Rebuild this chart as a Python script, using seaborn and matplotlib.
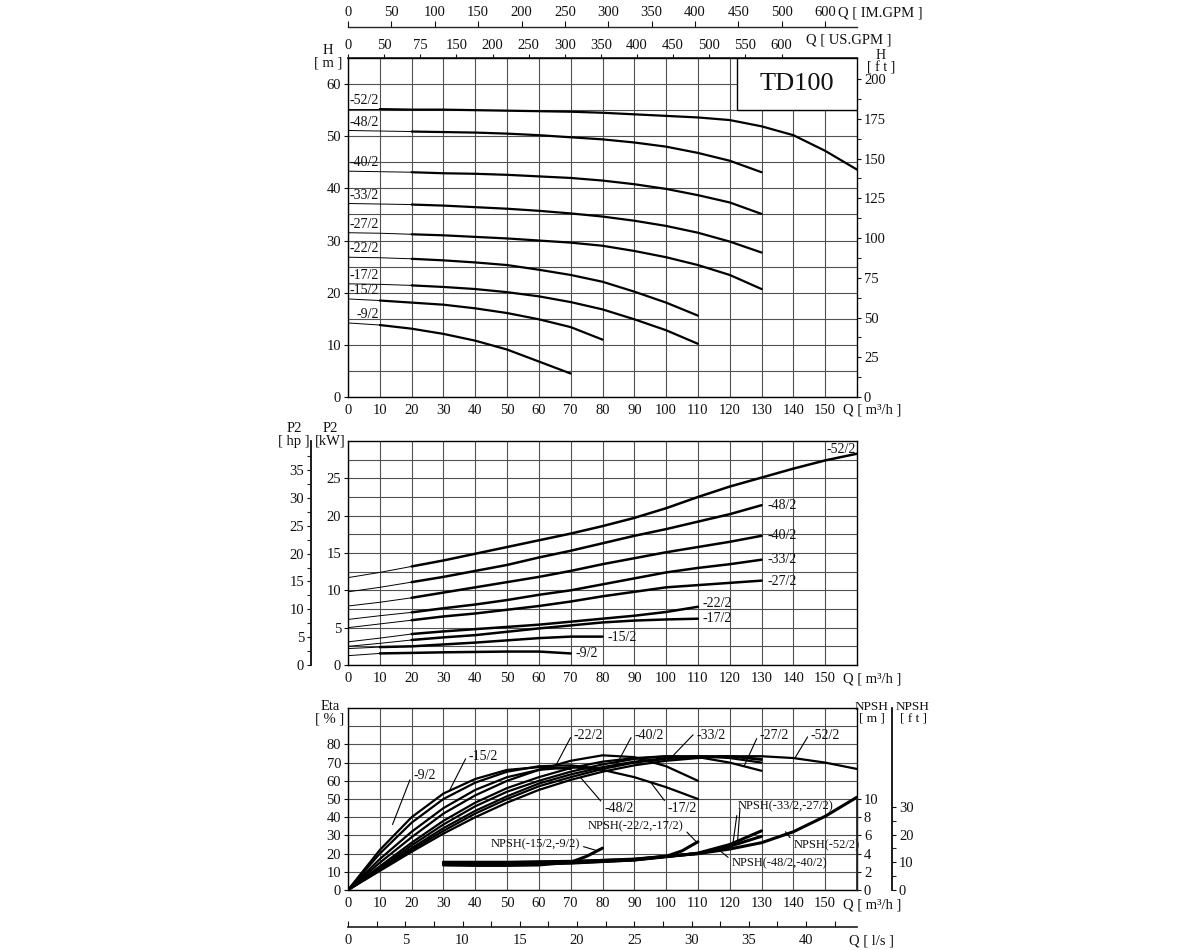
import numpy as np
import matplotlib
matplotlib.use("Agg")
import matplotlib.pyplot as plt
from matplotlib.patches import Rectangle
import seaborn as sns

# ---- data ----
models = ["-52/2", "-48/2", "-40/2", "-33/2", "-27/2", "-22/2", "-17/2", "-15/2", "-9/2"]

q160 = [0, 10, 20, 30, 40, 50, 60, 70, 80, 90, 100, 110, 120, 130, 140, 150, 160]
q130 = [0, 10, 20, 30, 40, 50, 60, 70, 80, 90, 100, 110, 120, 130]
q110 = [0, 10, 20, 30, 40, 50, 60, 70, 80, 90, 100, 110]
q80 = [0, 10, 20, 30, 40, 50, 60, 70, 80]
q70 = [0, 10, 20, 30, 40, 50, 60, 70]
q_of_model = [q160, q130, q130, q130, q130, q110, q110, q80, q70]

# head H [m]
head_52 = [55.2, 55.2, 55.1, 55.1, 55.0, 54.9, 54.8, 54.7, 54.5, 54.2, 53.9, 53.6, 53.1, 51.9, 50.2, 47.2, 43.6]
head_48 = [51.1, 51.0, 50.9, 50.8, 50.7, 50.5, 50.2, 49.8, 49.4, 48.8, 48.0, 46.8, 45.3, 43.1]
head_40 = [43.3, 43.2, 43.1, 42.9, 42.8, 42.6, 42.3, 42.0, 41.5, 40.8, 39.9, 38.7, 37.3, 35.1]
head_33 = [37.1, 37.0, 36.9, 36.7, 36.4, 36.1, 35.7, 35.2, 34.6, 33.8, 32.8, 31.5, 29.8, 27.7]
head_27 = [31.5, 31.4, 31.2, 31.0, 30.7, 30.4, 30.0, 29.6, 29.0, 28.0, 26.8, 25.3, 23.4, 20.7]
head_22 = [26.8, 26.7, 26.5, 26.2, 25.8, 25.3, 24.4, 23.4, 22.1, 20.2, 18.1, 15.6]
head_17 = [21.7, 21.6, 21.4, 21.1, 20.7, 20.1, 19.3, 18.2, 16.8, 14.9, 12.8, 10.2]
head_15 = [18.8, 18.5, 18.1, 17.7, 17.0, 16.1, 14.9, 13.4, 11.0]
head_9 = [14.2, 13.8, 13.1, 12.1, 10.8, 9.1, 6.8, 4.5]
heads = [head_52, head_48, head_40, head_33, head_27, head_22, head_17, head_15, head_9]

# shaft power P2 [kW]
p2_52 = [11.7, 12.4, 13.2, 14.0, 14.9, 15.8, 16.7, 17.6, 18.6, 19.7, 21.0, 22.5, 23.9, 25.1, 26.3, 27.4, 28.3]
p2_48 = [9.8, 10.4, 11.1, 11.8, 12.6, 13.4, 14.4, 15.3, 16.3, 17.3, 18.2, 19.2, 20.2, 21.4]
p2_40 = [7.9, 8.4, 9.0, 9.7, 10.4, 11.1, 11.8, 12.6, 13.5, 14.3, 15.1, 15.8, 16.5, 17.3]
p2_33 = [6.1, 6.6, 7.05, 7.6, 8.1, 8.7, 9.4, 10.0, 10.8, 11.6, 12.4, 13.0, 13.5, 14.1]
p2_27 = [5.0, 5.5, 6.0, 6.5, 6.9, 7.4, 7.9, 8.5, 9.2, 9.8, 10.4, 10.7, 11.0, 11.3]
p2_22 = [3.1, 3.6, 4.15, 4.5, 4.8, 5.1, 5.4, 5.8, 6.2, 6.6, 7.1, 7.8]
p2_17 = [2.5, 2.9, 3.35, 3.7, 4.0, 4.45, 4.9, 5.3, 5.7, 5.95, 6.1, 6.2]
p2_15 = [2.2, 2.4, 2.5, 2.75, 3.0, 3.3, 3.6, 3.8, 3.8]
p2_9 = [1.25, 1.55, 1.62, 1.7, 1.75, 1.8, 1.8, 1.55]
powers = [p2_52, p2_48, p2_40, p2_33, p2_27, p2_22, p2_17, p2_15, p2_9]

# efficiency Eta [%]
eta_52 = [0, 10.5, 21, 31, 40, 48, 55, 60.5, 65, 68.5, 71, 72.5, 73.5, 73.5, 72.5, 70, 66.5]
eta_48 = [0, 11, 22, 32.5, 42, 50, 57, 62, 66.5, 70, 72, 73, 73.5, 72]
eta_40 = [0, 11.5, 23, 34, 43.5, 51.5, 58.5, 63.5, 67.5, 70.5, 72.5, 73.5, 73.5, 71.5]
eta_33 = [0, 12, 24.5, 36, 46, 54, 60, 65, 69, 72, 73.5, 73.5, 72.5, 70]
eta_27 = [0, 13, 26, 38, 48, 56, 62, 67, 70.5, 72.5, 73.5, 73, 70, 65.5]
eta_22 = [0, 15, 29, 42, 52, 60, 66, 71, 74, 73, 68, 60]
eta_17 = [0, 17, 32, 45, 55, 62, 66, 67.5, 66, 62, 56.5, 50]
eta_15 = [0, 20, 37, 50, 59, 65, 68, 68.5, 66.5]
eta_9 = [0, 22, 40, 53, 61, 66, 67.5, 66.5]
etas = [eta_52, eta_48, eta_40, eta_33, eta_27, eta_22, eta_17, eta_15, eta_9]

# NPSH [m]
npsh_names = ["NPSH(-15/2,-9/2)", "NPSH(-22/2,-17/2)", "NPSH(-33/2,-27/2)", "NPSH(-48/2,-40/2)", "NPSH(-52/2)"]
npsh_q = [
    [30, 40, 50, 60, 70, 75, 80],
    [30, 50, 70, 90, 100, 105, 110],
    [30, 50, 70, 90, 100, 110, 120, 130],
    [30, 50, 70, 90, 100, 110, 120, 130],
    [30, 50, 70, 90, 100, 110, 120, 130, 140, 150, 160],
]
npsh_m = [
    [2.75, 2.7, 2.7, 2.75, 3.05, 3.7, 4.6],
    [2.85, 2.85, 2.95, 3.3, 3.7, 4.3, 5.3],
    [2.9, 2.9, 3.0, 3.3, 3.65, 4.05, 5.0, 6.5],
    [3.0, 3.0, 3.1, 3.4, 3.7, 4.0, 4.8, 5.9],
    [3.05, 3.05, 3.15, 3.35, 3.7, 4.0, 4.5, 5.2, 6.4, 8.1, 10.2],
]

thin_until_h = [10, 20, 20, 20, 20, 20, 20, 10, 10]
thin_until_p = [20, 20, 20, 20, 20, 20, 20, 10, 10]

us_gpm_ticks = [0, 50, 100, 150, 200, 250, 300, 350, 400, 450, 500, 550, 600]
us_gpm_labels = ["0", "50", "75", "150", "200", "250", "300", "350", "400", "450", "500", "550", "600"]
im_gpm_ticks = [0, 50, 100, 150, 200, 250, 300, 350, 400, 450, 500, 550]
im_gpm_labels = ["0", "50", "100", "150", "200", "250", "300", "350", "400", "450", "500", "600"]

M3H_TO_USGPM = 4.4029
M3H_TO_IMGPM = 3.6662
M_TO_FT = 3.28084
KW_TO_HP = 1 / 0.7457

sns.set_theme(style="white")
plt.rcParams["font.family"] = ["Liberation Serif", "DejaVu Serif"]
FS = 10.5      # tick labels
FS_LAB = 10    # curve names
FS_NPSH = 9    # NPSH curve names
INK = "#111111"
GRID = "#505050"

W, H = 1200, 950
PT = 72 / 100  # points per pixel at dpi 100


def fx(px):
    return px / W


def fy(py):
    return 1 - py / H


def frame(ax, ymax, major, minor):
    ax.set_xlim(0, 160)
    ax.set_ylim(0, ymax)
    ax.set_xticks(range(0, 151, 10))
    ax.set_yticks(major)
    ax.set_yticks(minor, minor=True)
    ax.grid(True, which="both", color=GRID, lw=0.8)
    ax.set_axisbelow(True)
    for s in ax.spines.values():
        s.set_color("black")
        s.set_linewidth(1.0)
    ax.tick_params(which="major", direction="out", length=3, width=0.8,
                   labelsize=FS, colors=INK, pad=2)
    ax.tick_params(which="minor", length=0)
    ax.set_xlabel("")
    ax.set_ylabel("")


def line(ax, x, y, lw):
    sns.lineplot(x=x, y=y, ax=ax, color="black", lw=lw, estimator=None, sort=False)


def twin_style(tw):
    for s in tw.spines.values():
        s.set_visible(False)
    tw.grid(False)
    tw.set_ylabel("")
    tw.tick_params(which="major", direction="out", length=3, width=0.8,
                   labelsize=FS, colors=INK, pad=2)
    tw.tick_params(which="minor", direction="out", length=3, width=0.8)


fig = plt.figure(figsize=(12, 9.5), dpi=100)
ax_h = fig.add_axes([fx(348), fy(397), fx(857) - fx(348), (397 - 58) / H])
ax_p = fig.add_axes([fx(348), fy(665), fx(857) - fx(348), (665 - 441) / H])
ax_e = fig.add_axes([fx(348), fy(890), fx(857) - fx(348), (890 - 708) / H])

# ---------------- head panel ----------------
frame(ax_h, 65, range(0, 61, 10), range(5, 61, 10))
for name, q, h, t in zip(models, q_of_model, heads, thin_until_h):
    q = np.array(q)
    h = np.array(h)
    line(ax_h, q[q <= t], h[q <= t], 0.7)
    line(ax_h, q[q >= t], h[q >= t], 1.6)
    ax_h.text(9.8, h[0] + 0.35, name, ha="right", va="bottom", fontsize=FS_LAB, color=INK)

ax_h.add_patch(Rectangle((122.4, 55), 160 - 122.4, 10, facecolor="white",
                         edgecolor="black", lw=1.0, zorder=3))
ax_h.text(141.2, 60.1, "TD100", ha="center", va="center", fontsize=19, color=INK, zorder=4)

ax_ft = ax_h.twinx()
twin_style(ax_ft)
ax_ft.set_ylim(0, 65 * M_TO_FT)
ax_ft.set_yticks(range(0, 201, 25))
ax_ft.set_yticks(np.arange(12.5, 200, 25), minor=True)

ax_us = ax_h.secondary_xaxis("top", functions=(lambda q: q * M3H_TO_USGPM,
                                               lambda g: g / M3H_TO_USGPM))
ax_us.set_xticks(us_gpm_ticks, labels=us_gpm_labels)
ax_us.tick_params(direction="out", length=3, width=0.8, labelsize=FS, colors=INK, pad=1)

ax_im = ax_h.secondary_xaxis(1 + (58 - 27) / (397 - 58),
                             functions=(lambda q: q * M3H_TO_IMGPM,
                                        lambda g: g / M3H_TO_IMGPM))
ax_im.set_xticks(im_gpm_ticks, labels=im_gpm_labels)
ax_im.tick_params(direction="out", length=4, width=0.8, labelsize=FS, colors=INK, pad=2)
ax_im.spines["top"].set_linewidth(1.0)

# ---------------- power panel ----------------
frame(ax_p, 30, range(0, 26, 5), np.arange(2.5, 30, 5))
for name, q, p, t in zip(models, q_of_model, powers, thin_until_p):
    q = np.array(q)
    p = np.array(p)
    line(ax_p, q[q <= t], p[q <= t], 0.7)
    line(ax_p, q[q >= t], p[q >= t], 1.8)

p_label_pos = {"-52/2": (159.8, 28.9, "right"), "-48/2": (132, 21.4, "left"),
               "-40/2": (132, 17.3, "left"), "-33/2": (132, 14.1, "left"),
               "-27/2": (132, 11.2, "left"), "-22/2": (111.5, 8.3, "left"),
               "-17/2": (111.5, 6.2, "left"), "-15/2": (81.5, 3.7, "left"),
               "-9/2": (71.5, 1.5, "left")}
for name, (x, y, ha) in p_label_pos.items():
    ax_p.text(x, y, name, ha=ha, va="center", fontsize=FS_LAB, color=INK)

ax_hp = ax_p.twinx()
twin_style(ax_hp)
ax_hp.set_ylim(0, 30 * KW_TO_HP)
ax_hp.spines["left"].set_visible(True)
ax_hp.spines["left"].set_position(("outward", (348 - 311) * PT))
ax_hp.spines["left"].set_color("black")
ax_hp.yaxis.tick_left()
ax_hp.set_yticks(range(0, 36, 5))
ax_hp.set_yticks(np.arange(2.5, 40, 5), minor=True)

# ---------------- efficiency / NPSH panel ----------------
frame(ax_e, 100, range(0, 81, 10), [90])
for name, q, e in zip(models, q_of_model, etas):
    line(ax_e, q, e, 1.6)

ax_nm = ax_e.twinx()
twin_style(ax_nm)
ax_nm.set_ylim(0, 20)
ax_nm.set_yticks(range(0, 11, 2))
ax_nm.spines["right"].set_visible(True)
ax_nm.spines["right"].set_bounds(0, 10)
for q, n in zip(npsh_q, npsh_m):
    line(ax_nm, q, n, 2.2)

ax_nf = ax_e.twinx()
twin_style(ax_nf)
ax_nf.set_ylim(0, 20 * M_TO_FT)
ax_nf.spines["right"].set_visible(True)
ax_nf.spines["right"].set_position(("outward", (892 - 857) * PT))
ax_nf.spines["right"].set_color("black")
ax_nf.set_yticks([0, 10, 20, 30])
ax_nf.set_yticks([5, 15, 25], minor=True)

# leader labels (text xy, curve xy, anchor on text)
eta_labels = [
    ("-9/2", (20.5, 63), (14, 36), "left", (0, 0.8), FS_LAB),
    ("-15/2", (38, 73.5), (32, 55), "left", (0, 0.8), FS_LAB),
    ("-22/2", (71, 85), (65.5, 69), "left", (0, 0.8), FS_LAB),
    ("-40/2", (90, 85), (84, 67.5), "left", (0, 0.8), FS_LAB),
    ("-33/2", (109.5, 85), (102, 73.5), "left", (0, 0.8), FS_LAB),
    ("-27/2", (129.5, 85), (124.5, 68), "left", (0, 0.8), FS_LAB),
    ("-52/2", (145.5, 85), (140.5, 72.5), "left", (0, 0.8), FS_LAB),
    ("-48/2", (80.5, 45), (73, 62), "left", (0, 0.75), FS_LAB),
    ("-17/2", (100.5, 45), (95, 59.5), "left", (0, 0.75), FS_LAB),
    ("NPSH(-15/2,-9/2)", (73, 25), (78.5, 21.5), "right", (1, 0.4), FS_NPSH),
    ("NPSH(-22/2,-17/2)", (105.5, 35), (109.5, 26.5), "right", (1, 0.3), FS_NPSH),
    ("NPSH(-33/2,-27/2)", (122.5, 46), (121, 25.5), "left", (0, 0.3), FS_NPSH),
    ("NPSH(-48/2,-40/2)", (120.5, 14.5), (117, 21.5), "left", (0, 0.8), FS_NPSH),
    ("NPSH(-52/2)", (140, 24.5), (137.5, 32), "left", (0, 0.8), FS_NPSH),
]
for text, txy, pxy, ha, rel, fs in eta_labels:
    ax_e.annotate(text, xy=pxy, xytext=txy, ha=ha, va="center", fontsize=fs, color=INK,
                  arrowprops=dict(arrowstyle="-", lw=0.8, color="black",
                                  shrinkA=0, shrinkB=0, relpos=rel))
ax_e.annotate("", xy=(122.5, 27.5), xytext=(123.2, 44.5),
              arrowprops=dict(arrowstyle="-", lw=0.8, color="black", shrinkA=0, shrinkB=0))

ax_ls = ax_e.secondary_xaxis(-(927 - 890) / (890 - 708),
                             functions=(lambda q: q / 3.6, lambda l: l * 3.6))
ax_ls.set_xticks(range(0, 41, 5))
ax_ls.set_xticks(np.arange(2.5, 44, 5), minor=True)
ax_ls.tick_params(which="both", direction="in", length=4, width=0.8,
                  labelsize=FS, colors=INK, pad=5)

# ---------------- axis captions ----------------
txt = dict(fontsize=FS, color=INK, linespacing=0.95)
fig.text(fx(838), fy(13), "Q [ IM.GPM ]", ha="left", va="center", **txt)
fig.text(fx(806), fy(40), "Q [ US.GPM ]", ha="left", va="center", **txt)
fig.text(fx(328), fy(44), "H\n[ m ]", ha="center", va="top", **txt)
fig.text(fx(881), fy(49), "H\n[ f t ]", ha="center", va="top", fontsize=10,
         color=INK, linespacing=0.9)
fig.text(fx(294), fy(422), "P2\n[ hp ]", ha="center", va="top", **txt)
fig.text(fx(330), fy(422), "P2\n[kW]", ha="center", va="top", **txt)
fig.text(fx(330), fy(700), "Eta\n[ % ]", ha="center", va="top", **txt)
npsh_txt = dict(fontsize=9.5, color=INK, linespacing=0.95)
fig.text(fx(872), fy(701), "NPSH\n[ m ]", ha="center", va="top", **npsh_txt)
fig.text(fx(913), fy(701), "NPSH\n[ f t ]", ha="center", va="top", **npsh_txt)
for py in (410, 679, 905):
    fig.text(fx(843), fy(py), "Q [ m³/h ]", ha="left", va="center", **txt)
fig.text(fx(849), fy(941), "Q [ l/s ]", ha="left", va="center", **txt)

fig.savefig("out.png", dpi=100, facecolor="white")
